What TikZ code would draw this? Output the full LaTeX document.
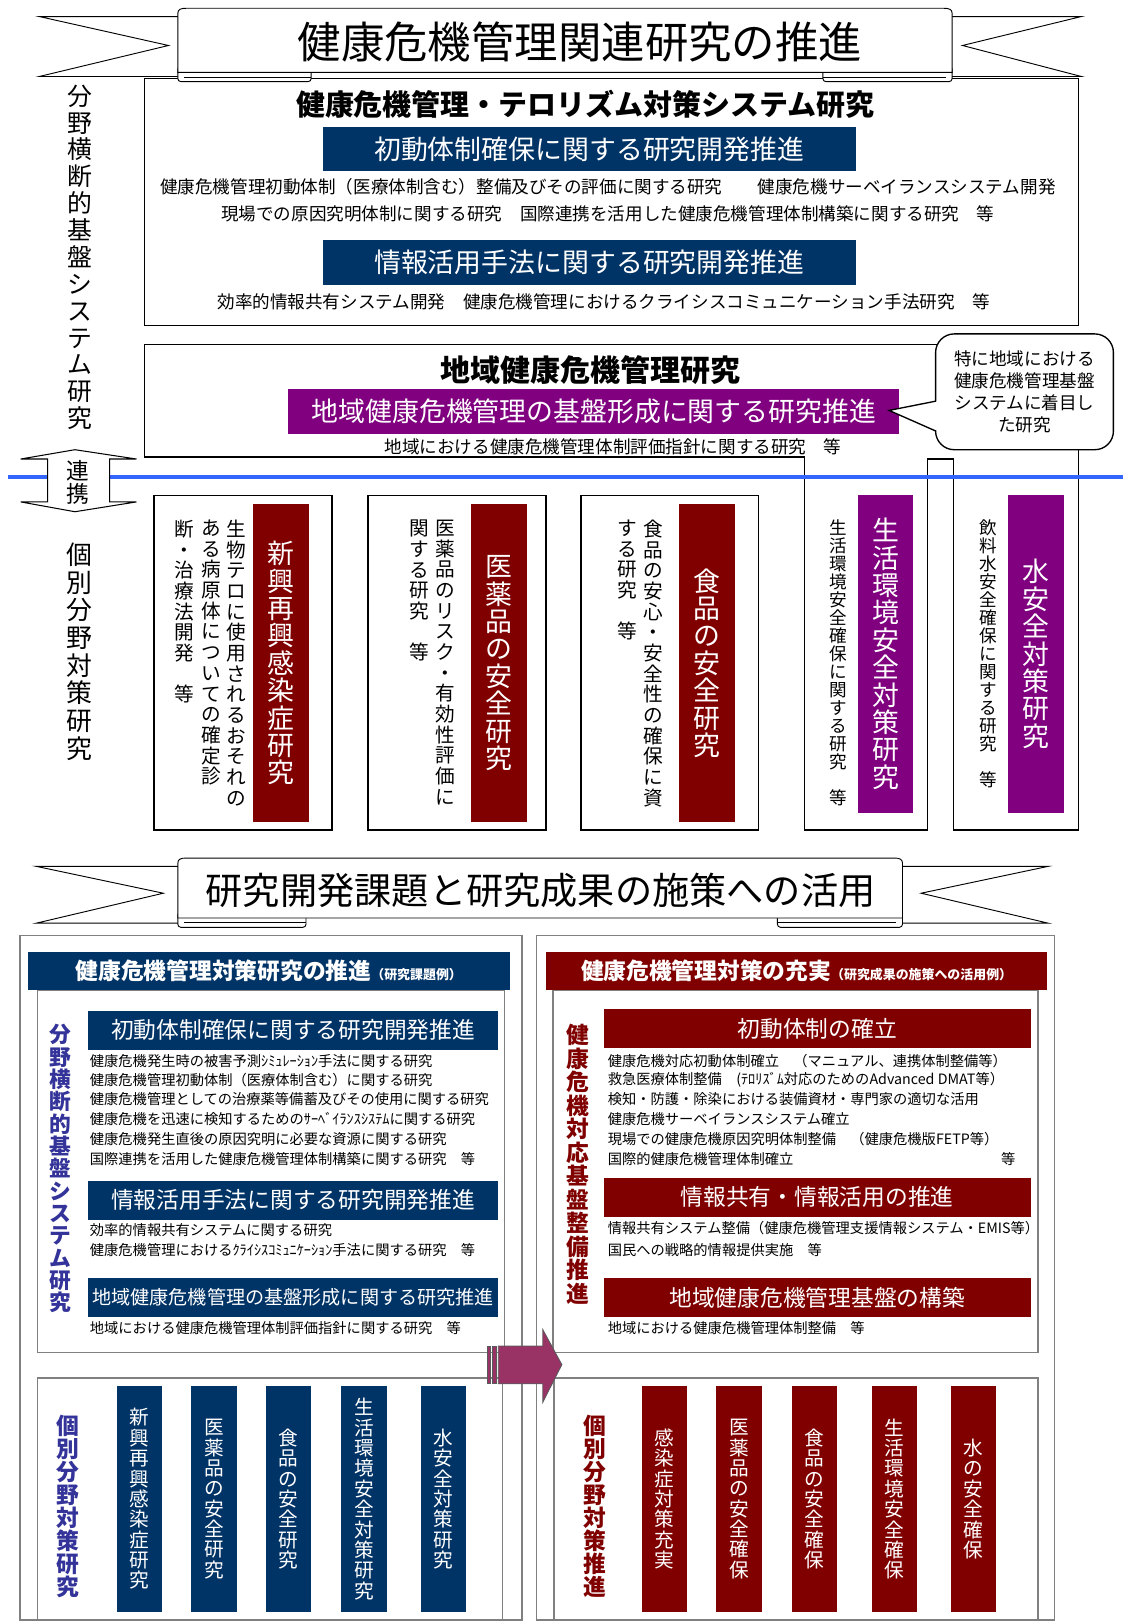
\documentclass[tikz,border=0pt]{standalone}
\usepackage{fontspec}
\setmainfont{Noto Sans CJK JP}
\usepackage{xcolor}
\usepackage{tikz}

\definecolor{kikinavy}{RGB}{0,51,102}
\definecolor{kikired}{RGB}{128,0,0}
\definecolor{kikipurple}{RGB}{128,0,128}
\definecolor{renkeiblue}{RGB}{51,102,255}
\definecolor{labelblue}{RGB}{51,51,153}
\definecolor{arrowpink}{RGB}{153,51,102}
\definecolor{panelgray}{RGB}{128,128,128}

\newcommand\jsize[2]{\fontsize{#1}{#2}\selectfont}

% vertical (tategaki) text: one character per line
\ExplSyntaxOn
\NewDocumentCommand \tate { m }
  {
    \seq_clear:N \l_tmpa_seq
    \tl_map_inline:nn {#1} { \seq_put_right:Nn \l_tmpa_seq {##1} }
    \seq_use:Nn \l_tmpa_seq { \\ }
  }
\ExplSyntaxOff

\begin{document}
\begin{tikzpicture}[x=1pt, y=-1pt,
    every node/.style={inner sep=0pt, outer sep=0pt},
    edgeline/.style={draw=black, line width=1.3pt},
    panel/.style={draw=panelgray, line width=1.3pt},
    ribbon/.style={draw=black, fill=white, line width=0.9pt},
    bar/.style={text=white, align=center},
    line17/.style={font=\jsize{17}{20}},
    line14/.style={anchor=west, font=\jsize{13.8}{16}},
    coltext/.style={anchor=north, align=center, font=\jsize{19}{20}},
    vtitle/.style={bar, minimum width=54pt, minimum height=307pt, font=\jsize{26}{26.5}},
    vsmall/.style={bar, minimum width=44pt, minimum height=218pt, font=\jsize{19}{19.7}}]
  \useasboundingbox (0,0) rectangle (1086,1568);
  \fill[white] (0,0) rectangle (1086,1568);

  % upper research box
  \draw[edgeline] (140,76) rectangle (1043,315);

  % top ribbon
  \draw[ribbon] (38,16) -- (185,16) -- (185,74) -- (38,74) -- (163,44) -- cycle;
  \draw[ribbon] (1046,16) -- (905,16) -- (905,74) -- (1046,74) -- (931,44) -- cycle;
  \draw[ribbon, rounded corners=3pt] (172,64) rectangle (301,79);
  \draw[ribbon, rounded corners=3pt] (796,64) rectangle (921,79);
  \draw[ribbon] (172,70) -- (172,13) .. controls (172,9) and (175,8) .. (180,8)
    -- (913,8) .. controls (918,8) and (921,9) .. (921,13) -- (921,70) -- cycle;
  \draw[line width=0.9pt] (178,74.5) -- (301,74.5) (796,74.5) -- (915,74.5);
  \node[font=\jsize{42}{44}] (toptitle) at (561,41) {健康危機管理関連研究の推進};

  \node[font=\jsize{28}{30}\bfseries] (terottl) at (566,101) {健康危機管理・テロリズム対策システム研究};
  \node[bar, fill=kikinavy, minimum width=516pt, minimum height=42pt, font=\jsize{26}{28}] (shodo) at (570,144) {初動体制確保に関する研究開発推進};
  \node[line17] (shodoA) at (588,181) {健康危機管理初動体制（医療体制含む）整備及びその評価に関する研究　　健康危機サーベイランスシステム開発};
  \node[line17] (shodoB) at (588,207) {現場での原因究明体制に関する研究　国際連携を活用した健康危機管理体制構築に関する研究　等};
  \node[bar, fill=kikinavy, minimum width=516pt, minimum height=43pt, font=\jsize{26}{28}] (joho) at (570,254) {情報活用手法に関する研究開発推進};
  \node[line17] (johoA) at (584,292) {効率的情報共有システム開発　健康危機管理におけるクライシスコミュニケーション手法研究　等};

  % regional box joined with the two right columns
  \draw[edgeline] (140,333) -- (1043,333) -- (1043,803) -- (922,803) -- (922,444) -- (897,444)
    -- (897,803) -- (778,803) -- (778,442) -- (140,442) -- cycle;
  \node[font=\jsize{29}{31}\bfseries] (chiikittl) at (571,358) {地域健康危機管理研究};
  \node[bar, fill=kikipurple, minimum width=591pt, minimum height=44pt, font=\jsize{26}{28}] (chiiki) at (574.5,398) {地域健康危機管理の基盤形成に関する研究推進};
  \node[line17] (chiikiA) at (593,432) {地域における健康危機管理体制評価指針に関する研究　等};

  % callout
  \node[draw, line width=1.3pt, fill=white, rounded corners=18pt, minimum width=172pt, minimum height=112pt,
        align=center, font=\jsize{17}{21.5}] (note) at (991,379) {特に地域における\\健康危機管理基盤\\システムに着目し\\た研究};
  \coordinate (notetip) at (860,397);
  \coordinate (noteA) at (905.3,388);
  \coordinate (noteB) at (905.3,417);
  \fill[white] (907.5,388) -- (notetip) -- (907.5,417) -- cycle;
  \draw[line width=1.3pt] (noteA) -- (notetip) -- (noteB);

  % individual field columns
  \draw[edgeline] (149,479) rectangle (321,803);
  \draw[edgeline] (356,479) rectangle (528,803);
  \draw[edgeline] (562,479) rectangle (734,803);

  \node[vtitle, fill=kikired] (shinko) at (271.5,641.5) {\tate{新興再興感染症研究}};
  \node[coltext] (shinkoA) at (229,503) {\tate{生物テロに使用されるおそれの}};
  \node[coltext] (shinkoB) at (204,503) {\tate{ある病原体についての確定診}};
  \node[coltext] (shinkoC) at (178,503) {\tate{断・治療法開発　等}};

  \node[vtitle, fill=kikired] (iyaku) at (483,641.5) {\tate{医薬品の安全研究}};
  \node[coltext] (iyakuA) at (431,503) {\tate{医薬品のリスク・有効性評価に}};
  \node[coltext] (iyakuB) at (406,503) {\tate{関する研究　等}};

  \node[vtitle, fill=kikired] (shokuhin) at (684,641.5) {\tate{食品の安全研究}};
  \node[coltext] (shokuhinA) at (632,503) {\tate{食品の安心・安全性の確保に資}};
  \node[coltext] (shokuhinB) at (607,503) {\tate{する研究　等}};

  \node[vtitle, fill=kikipurple] (seikatsu) at (856.5,632.5) {\tate{生活環境安全対策研究}};
  \node[coltext, font=\jsize{17}{17.4}] (seikatsuA) at (811,503) {\tate{生活環境安全確保に関する研究　等}};

  \node[vtitle, fill=kikipurple] (mizu) at (1002,632.5) {\tate{水安全対策研究}};
  \node[coltext, font=\jsize{17}{17.4}] (mizuA) at (956,503) {\tate{飲料水安全確保に関する研究　等}};

  % liaison line and double arrow
  \draw[renkeiblue, line width=4pt] (8,461) -- (1086,461);
  \draw[draw=black, line width=1pt, fill=white] (72.5,435) -- (132,444) -- (106,444) -- (106,485.5) -- (132,485.5)
    -- (72.5,495) -- (20,485.5) -- (46,485.5) -- (46,444) -- (20,444) -- cycle;
  \node[align=center, font=\jsize{22}{22}] (renkei) at (75,466.5) {\tate{連携}};

  \node[anchor=north, align=center, font=\jsize{24}{26}] (bunyaL) at (77,82) {\tate{分野横断的基盤システム研究}};
  \node[anchor=north, align=center, font=\jsize{25}{26.8}] (kobetsuL) at (77,525) {\tate{個別分野対策研究}};

  % lower ribbon
  \draw[ribbon] (35,838) -- (185,838) -- (185,893) -- (35,893) -- (158,864) -- cycle;
  \draw[ribbon] (1014,838) -- (860,838) -- (860,893) -- (1014,893) -- (891,864) -- cycle;
  \draw[ribbon, rounded corners=3pt] (172,882) rectangle (296,897);
  \draw[ribbon, rounded corners=3pt] (752,882) rectangle (873,897);
  \draw[ribbon] (172,888) -- (172,835) .. controls (172,831) and (175,830) .. (180,830)
    -- (865,830) .. controls (870,830) and (873,831) .. (873,835) -- (873,888) -- cycle;
  \draw[line width=0.9pt] (178,892.5) -- (296,892.5) (752,892.5) -- (867,892.5);
  \node[font=\jsize{36}{38}] (lowtitle) at (523,861) {研究開発課題と研究成果の施策への活用};

  % lower panels
  \draw[panel] (19.5,905) rectangle (505,1567);
  \draw[panel] (519,905) rectangle (1020,1567);
  \draw[panel] (36,958) rectangle (488,1308);
  \draw[panel] (36,1333) rectangle (486,1567);
  \draw[panel] (535,958) rectangle (1004,1308);
  \draw[panel] (536,1333) rectangle (1004,1567);

  % left: research themes
  \node[bar, fill=kikinavy, minimum width=466pt, minimum height=37pt] (kadaihd) at (260,939.5)
    {{\jsize{22}{24}\bfseries 健康危機管理対策研究の推進}{\jsize{12.5}{14}\bfseries （研究課題例）}};
  \node[anchor=north, align=center, text=labelblue, font=\jsize{21}{21.6}\bfseries] (kadaiL) at (58.5,991) {\tate{分野横断的基盤システム研究}};
  \node[bar, fill=kikinavy, minimum width=397pt, minimum height=38pt, font=\jsize{22}{24}] (shodo2) at (283.5,996.5) {初動体制確保に関する研究開発推進};
  \node[line14] (shodo2A) at (87,1026) {健康危機発生時の被害予測ｼﾐｭﾚｰｼｮﾝ手法に関する研究};
  \node[line14] (shodo2B) at (87,1044.5) {健康危機管理初動体制（医療体制含む）に関する研究};
  \node[line14] (shodo2C) at (87,1063.5) {健康危機管理としての治療薬等備蓄及びその使用に関する研究};
  \node[line14] (shodo2D) at (87,1082.5) {健康危機を迅速に検知するためのｻｰﾍﾞｲﾗﾝｽｼｽﾃﾑに関する研究};
  \node[line14] (shodo2E) at (87,1101.5) {健康危機発生直後の原因究明に必要な資源に関する研究};
  \node[line14] (shodo2F) at (87,1121) {国際連携を活用した健康危機管理体制構築に関する研究　等};
  \node[bar, fill=kikinavy, minimum width=397pt, minimum height=38pt, font=\jsize{22}{24}] (joho2) at (283.5,1161) {情報活用手法に関する研究開発推進};
  \node[line14] (joho2A) at (87,1190) {効率的情報共有システムに関する研究};
  \node[line14] (joho2B) at (87,1209) {健康危機管理におけるｸﾗｲｼｽｺﾐｭﾆｹｰｼｮﾝ手法に関する研究　等};
  \node[bar, fill=kikinavy, minimum width=397pt, minimum height=37pt, font=\jsize{18.5}{20}] (chiiki2) at (283.5,1255) {地域健康危機管理の基盤形成に関する研究推進};
  \node[line14] (chiiki2A) at (87,1284.5) {地域における健康危機管理体制評価指針に関する研究　等};

  \node[anchor=north, align=center, text=labelblue, font=\jsize{22}{22.2}\bfseries] (kobetsu2L) at (66,1369) {\tate{個別分野対策研究}};
  \node[vsmall, fill=kikinavy] (kcolA) at (135,1450) {\tate{新興再興感染症研究}};
  \node[vsmall, fill=kikinavy] (kcolB) at (207,1450) {\tate{医薬品の安全研究}};
  \node[vsmall, fill=kikinavy] (kcolC) at (279,1450) {\tate{食品の安全研究}};
  \node[vsmall, fill=kikinavy] (kcolD) at (352,1450) {\tate{生活環境安全対策研究}};
  \node[vsmall, fill=kikinavy] (kcolE) at (429,1450) {\tate{水安全対策研究}};

  % right: use in policy
  \node[bar, fill=kikired, minimum width=485pt, minimum height=37pt] (sesakuhd) at (770.5,939.5)
    {{\jsize{22}{24}\bfseries 健康危機管理対策の充実}{\jsize{12.5}{14}\bfseries （研究成果の施策への活用例）}};
  \node[anchor=north, align=center, text=kikired, font=\jsize{22}{22.7}\bfseries] (sesakuL) at (559,991) {\tate{健康危機対応基盤整備推進}};
  \node[bar, fill=kikired, minimum width=413pt, minimum height=38pt, font=\jsize{22}{24}] (shodo3) at (790.5,995) {初動体制の確立};
  \node[line14] (shodo3A) at (588,1026) {健康危機対応初動体制確立　（マニュアル、連携体制整備等）};
  \node[line14] (shodo3B) at (588,1044.5) {救急医療体制整備　(ﾃﾛﾘｽﾞﾑ対応のためのAdvanced DMAT等）};
  \node[line14] (shodo3C) at (588,1063.5) {検知・防護・除染における装備資材・専門家の適切な活用};
  \node[line14] (shodo3D) at (588,1082.5) {健康危機サーベイランスシステム確立};
  \node[line14] (shodo3E) at (588,1101.5) {現場での健康危機原因究明体制整備　（健康危機版FETP等）};
  \node[line14] (shodo3F) at (588,1121) {国際的健康危機管理体制確立\hspace{201pt}等};
  \node[bar, fill=kikired, minimum width=413pt, minimum height=38pt, font=\jsize{22}{24}] (johokyo) at (790.5,1158) {情報共有・情報活用の推進};
  \node[line14] (johokyoA) at (588,1187.5) {情報共有システム整備（健康危機管理支援情報システム・EMIS等）};
  \node[line14] (johokyoB) at (588,1209) {国民への戦略的情報提供実施　等};
  \node[bar, fill=kikired, minimum width=413pt, minimum height=38pt, font=\jsize{22}{24}] (chiiki3) at (790.5,1255) {地域健康危機管理基盤の構築};
  \node[line14] (chiiki3A) at (588,1284.5) {地域における健康危機管理体制整備　等};

  \node[anchor=north, align=center, text=kikired, font=\jsize{22}{22.2}\bfseries] (suishinL) at (575,1369) {\tate{個別分野対策推進}};
  \node[vsmall, fill=kikired] (scolA) at (643,1450) {\tate{感染症対策充実}};
  \node[vsmall, fill=kikired] (scolB) at (715,1450) {\tate{医薬品の安全確保}};
  \node[vsmall, fill=kikired] (scolC) at (788,1450) {\tate{食品の安全確保}};
  \node[vsmall, fill=kikired] (scolD) at (865,1450) {\tate{生活環境安全確保}};
  \node[vsmall, fill=kikired] (scolE) at (941.5,1450) {\tate{水の安全確保}};

  % striped arrow between panels
  \draw[fill=arrowpink, draw=panelgray!70!black, line width=0.8pt] (471,1302) rectangle (474,1338.5);
  \draw[fill=arrowpink, draw=panelgray!70!black, line width=0.8pt] (476,1302) rectangle (480,1338.5);
  \draw[fill=arrowpink, draw=panelgray!70!black, line width=0.8pt] (482,1302) -- (525,1302) -- (525,1286)
    -- (543.5,1320) -- (525,1356.5) -- (525,1338.5) -- (482,1338.5) -- cycle;
\end{tikzpicture}
\end{document}
